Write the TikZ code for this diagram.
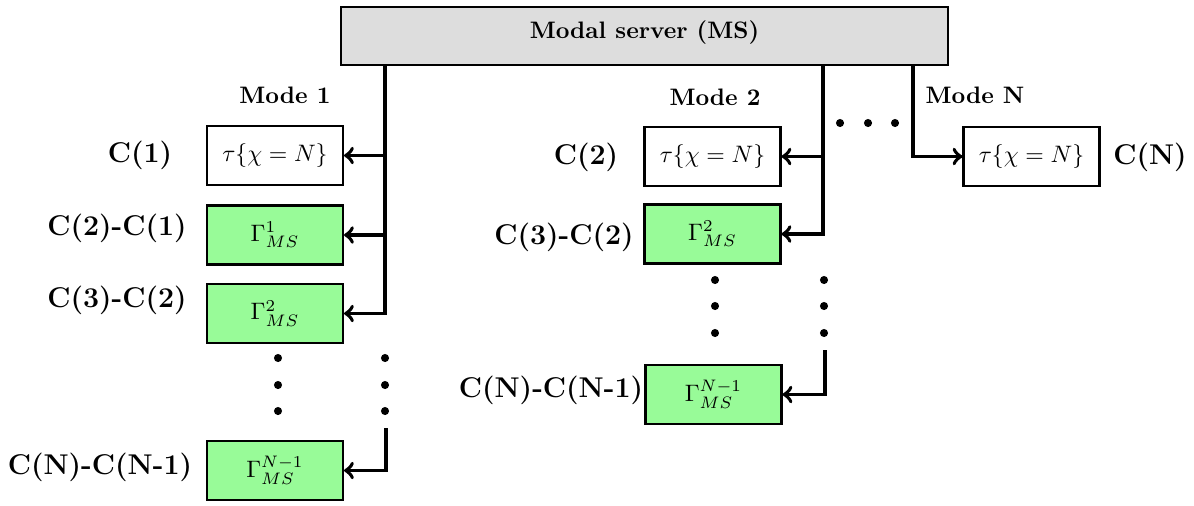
\documentclass[tikz,border=0pt]{standalone}
\usepackage{amsmath}
\usetikzlibrary{arrows}
\definecolor{gamgreen}{RGB}{152,251,152}
\definecolor{msgray}{RGB}{221,221,221}

\tikzset{
  cbox/.style={draw, line width=1pt, minimum width=57pt, minimum height=24.8pt, inner sep=0pt},
  gbox/.style={cbox, fill=gamgreen},
  bus/.style={line width=1.6pt},
  clabel/.style={font=\large\bfseries},
  mlabel/.style={font=\bfseries},
}

\begin{document}
\begin{tikzpicture}[x=0.42pt,y=-0.42pt]
      \useasboundingbox (0,0) rectangle (1194,505);

      \node[draw, line width=1pt, fill=msgray, minimum width=255pt, minimum height=24.4pt, text depth=5pt, font=\bfseries] (ms) at (644.5,36) {Modal server (MS)};

      % mode 1
      \node[mlabel] (m1) at (285,95) {Mode 1};
      \node[cbox] (tau1) at (275,155.5) {$\tau\{\chi = N\}$};
      \node[gbox] (g11) at (275,235) {$\Gamma^{1}_{MS}$};
      \node[gbox] (g12) at (275,313.5) {$\Gamma^{2}_{MS}$};
      \node[gbox] (g1n) at (275,470.5) {$\Gamma^{N-1}_{MS}$};

      \node[clabel] (c1) at (140,155) {C(1)};
      \node[clabel] (c21) at (117,228) {C(2)-C(1)};
      \node[clabel] (c32) at (117,300) {C(3)-C(2)};
      \node[clabel] (cn1) at (100,467) {C(N)-C(N-1)};

      \coordinate (b1) at (385,0);
      \draw[bus,->] (ms.south -| b1) -- (b1 |- g12.east) -- (g12.east);
      \draw[bus,->] (b1 |- tau1.east) -- (tau1.east);
      \draw[bus,->] (b1 |- g11.east) -- (g11.east);
      \coordinate (t1) at (386,428);
      \draw[bus,->] (t1) -- (t1 |- g1n.east) -- (g1n.east);

      \foreach \y in {358,385,411} {
        \fill (278,\y) circle[radius=1.7pt];
        \fill (385,\y) circle[radius=1.7pt];
      }

      % mode 2
      \node[mlabel] (m2) at (715,97) {Mode 2};
      \node[cbox] (tau2) at (712.5,156.5) {$\tau\{\chi = N\}$};
      \node[gbox] (g22) at (712.5,234) {$\Gamma^{2}_{MS}$};
      \node[gbox] (g2n) at (713.5,394.5) {$\Gamma^{N-1}_{MS}$};

      \node[clabel] (c2) at (586,157) {C(2)};
      \node[clabel] (c32b) at (564,237) {C(3)-C(2)};
      \node[clabel] (cn1b) at (551,390) {C(N)-C(N-1)};

      \coordinate (b2) at (823,0);
      \draw[bus,->] (ms.south -| b2) -- (b2 |- g22.east) -- (g22.east);
      \draw[bus,->] (b2 |- tau2.east) -- (tau2.east);
      \coordinate (t2) at (825,350);
      \draw[bus,->] (t2) -- (t2 |- g2n.east) -- (g2n.east);

      \foreach \y in {280,306,333} {
        \fill (715,\y) circle[radius=1.7pt];
        \fill (824,\y) circle[radius=1.7pt];
      }

      % mode N
      \foreach \x in {840,868,895}
        \fill (\x,123) circle[radius=1.7pt];

      \node[mlabel] (mn) at (975,95) {Mode N};
      \node[cbox] (taun) at (1031.5,156.5) {$\tau\{\chi = N\}$};
      \node[clabel] (cn) at (1150,157) {C(N)};

      \coordinate (b3) at (913,0);
      \draw[bus,->] (ms.south -| b3) -- (b3 |- taun.west) -- (taun.west);

\end{tikzpicture}
\end{document}
